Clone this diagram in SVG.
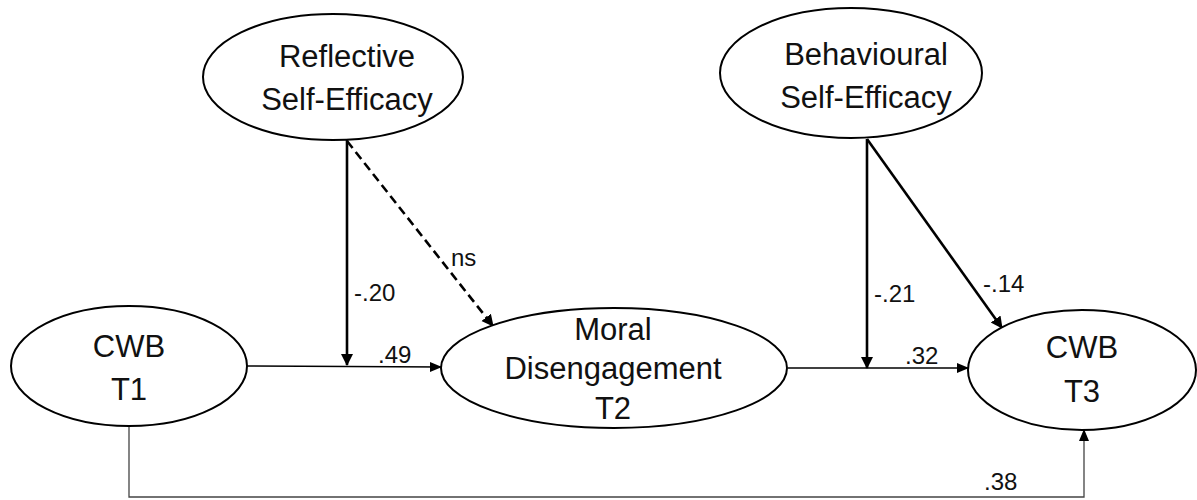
<svg xmlns="http://www.w3.org/2000/svg" width="1197" height="500" viewBox="0 0 1197 500">
<defs>
<style>
.node ellipse{fill:#fff;stroke:#000;stroke-width:2}
.nt{font-family:"Liberation Sans",Arial,sans-serif;font-size:31px;fill:#111;text-anchor:middle}
.lbl{font-family:"Liberation Sans",Arial,sans-serif;font-size:24px;fill:#111}
.thick{stroke:#000;stroke-width:2.6;fill:none}
.thin{stroke:#000;stroke-width:1.4;fill:none}
.grey{stroke:#444;stroke-width:1.3;fill:none}
</style>
<marker id="ah" markerUnits="userSpaceOnUse" markerWidth="12" markerHeight="16" viewBox="0 0 12 16" refX="11" refY="8" orient="auto">
<path d="M0,2 L12,8 L0,14 Z" fill="#000"/>
</marker>
<marker id="ahs" markerUnits="userSpaceOnUse" markerWidth="12" markerHeight="12" viewBox="0 0 12 12" refX="11" refY="6" orient="auto">
<path d="M0,1 L12,6 L0,11 Z" fill="#000"/>
</marker>
</defs>
<rect width="1197" height="500" fill="#fff"/>
<g id="connectors">
<line class="thick" x1="347" y1="140" x2="347" y2="365" marker-end="url(#ah)"/>
<line class="thick" x1="347" y1="141" x2="493" y2="326" stroke-dasharray="9,5" marker-end="url(#ah)"/>
<line class="thick" x1="867" y1="139" x2="867" y2="368" marker-end="url(#ah)"/>
<line class="thick" x1="867" y1="139" x2="1002" y2="328" marker-end="url(#ah)"/>
<line class="thin" x1="247" y1="366" x2="441" y2="367" marker-end="url(#ahs)"/>
<line class="thin" x1="788" y1="368" x2="968" y2="368" marker-end="url(#ahs)"/>
<polyline class="grey" points="129,427 129,497 1084,497 1084,430" marker-end="url(#ahs)"/>
<text class="lbl" x="354" y="301">-.20</text>
<text class="lbl" x="451" y="266">ns</text>
<text class="lbl" x="378" y="363">.49</text>
<text class="lbl" x="874" y="302">-.21</text>
<text class="lbl" x="983" y="292">-.14</text>
<text class="lbl" x="905" y="364">.32</text>
<text class="lbl" x="984" y="490">.38</text>
</g>
<g id="reflective" class="node">
<ellipse cx="333" cy="77" rx="130" ry="63"/>
<text class="nt" x="347" y="67">Reflective</text>
<text class="nt" x="347" y="110">Self-Efficacy</text>
</g>
<g id="behavioural" class="node">
<ellipse cx="851" cy="73" rx="131" ry="65"/>
<text class="nt" x="866" y="65">Behavioural</text>
<text class="nt" x="866" y="108">Self-Efficacy</text>
</g>
<g id="cwbt1" class="node">
<ellipse cx="129" cy="366" rx="118" ry="60"/>
<text class="nt" x="129" y="357">CWB</text>
<text class="nt" x="129" y="400">T1</text>
</g>
<g id="moral" class="node">
<ellipse cx="614" cy="368" rx="173" ry="60"/>
<text class="nt" x="613" y="340">Moral</text>
<text class="nt" x="613" y="379">Disengagement</text>
<text class="nt" x="613" y="419">T2</text>
</g>
<g id="cwbt3" class="node">
<ellipse cx="1082" cy="370" rx="114" ry="60"/>
<text class="nt" x="1082" y="358">CWB</text>
<text class="nt" x="1082" y="402">T3</text>
</g>
</svg>
